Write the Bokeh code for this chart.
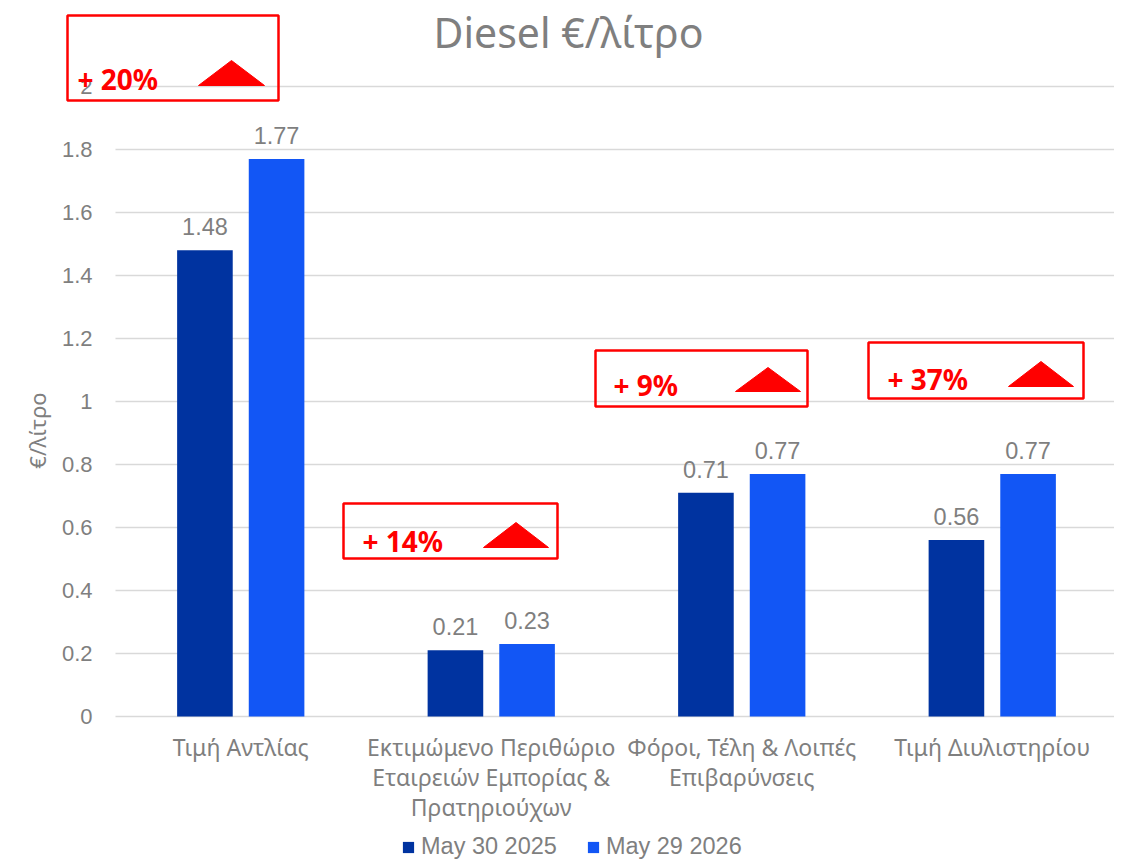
import numpy as np
from bokeh.plotting import figure
from bokeh.models import FixedTicker, BoxAnnotation, Label, Legend, LegendItem, ColumnDataSource
from bokeh.embed import file_html
from bokeh.resources import INLINE
from bokeh.core.properties import value

# ---------------- data ----------------
categories = [
    "Τιμή Αντλίας",
    "Εκτιμώμενο Περιθώριο\nΕταιρειών Εμπορίας &\nΠρατηριούχων",
    "Φόροι, Τέλη & Λοιπές\nΕπιβαρύνσεις",
    "Τιμή Διυλιστηρίου",
]
series_names = ["May 30 2025", "May 29 2026"]
values_2025 = [1.48, 0.21, 0.71, 0.56]
values_2026 = [1.77, 0.23, 0.77, 0.77]
value_labels_2025 = ["1.48", "0.21", "0.71", "0.56"]
value_labels_2026 = ["1.77", "0.23", "0.77", "0.77"]
change_labels = ["+ 20%", "+ 14%", "+ 9%", "+ 37%"]
y_ticks = [0, 0.2, 0.4, 0.6, 0.8, 1, 1.2, 1.4, 1.6, 1.8, 2]
y_tick_labels = ["0", "0.2", "0.4", "0.6", "0.8", "1", "1.2", "1.4", "1.6", "1.8", "2"]

# ---------------- style ----------------
DARK = "#0033A0"
LIGHT = "#1256F5"
GREY = "#7F7F7F"
GRID = "#D9D9D9"
RED = "#FF0000"
NUM_FONT = "Liberation Sans"
TXT_FONT = "Noto Sans"

W, H = 1114, 860
# plot-area geometry (canvas pixels); the frame covers the whole canvas
FL, FR, FB = 115, 1117, 716
PX_X = (FR - FL) / 4.0
PX_Y = 315.0
def dx(px):
    return (px - FL) / PX_X
def dy(py):
    return (FB - py) / PX_Y

# annotation boxes in canvas pixels: left, right, top, bottom
boxes_px = [(67, 278, 15, 100), (343, 557, 503, 558), (595, 807, 350, 406), (868, 1083, 342, 398)]
text_px = [(77, 78), (362, 540), (613, 384), (887, 378)]
tri_px = [(198, 264, 60, 85), (483, 548, 522, 547), (735, 800, 367, 391), (1008, 1073, 361, 386)]

n = len(categories)
centers = np.arange(n) + 0.5
bar_w = 0.222
off = 0.143

p = figure(width=W, height=H, x_range=(dx(0), dx(W)), y_range=(dy(H), dy(0)),
           output_backend="svg", toolbar_location=None, title=None, min_border=0)
p.outline_line_color = None
p.background_fill_color = "white"

src = ColumnDataSource(dict(
    x1=centers - off, x2=centers + off, v1=values_2025, v2=values_2026,
    l1=value_labels_2025, l2=value_labels_2026))

r1 = p.vbar(x="x1", top="v1", width=bar_w, source=src, fill_color=DARK, line_color=None)
r2 = p.vbar(x="x2", top="v2", width=bar_w, source=src, fill_color=LIGHT, line_color=None)

for xcol, ycol, lcol in (("x1", "v1", "l1"), ("x2", "v2", "l2")):
    p.text(x=xcol, y=ycol, text=lcol, source=src, text_align="center", text_baseline="bottom",
           y_offset=-15, text_font=value(NUM_FONT), text_font_size="23.5px", text_color=GREY)

# axes (anchored at the plot area's edges)
p.xaxis.fixed_location = 0
p.xaxis.ticker = FixedTicker(ticks=list(centers))
p.xaxis.major_label_overrides = {float(c): lab for c, lab in zip(centers, categories)}
p.xaxis.major_label_text_font = TXT_FONT
p.xaxis.major_label_text_font_size = "23px"
p.xaxis.major_label_text_color = GREY
p.xaxis.major_label_text_line_height = 0.94
p.xaxis.major_label_standoff = 8
p.xaxis.axis_line_color = None
p.xaxis.major_tick_line_color = None
p.xaxis.minor_tick_line_color = None

p.yaxis.fixed_location = 0
p.yaxis.ticker = FixedTicker(ticks=y_ticks)
p.yaxis.major_label_overrides = {float(t): s for t, s in zip(y_ticks, y_tick_labels)}
p.yaxis.major_label_text_font = NUM_FONT
p.yaxis.major_label_text_font_size = "22px"
p.yaxis.major_label_text_color = GREY
p.yaxis.major_label_standoff = 17
p.yaxis.axis_line_color = None
p.yaxis.major_tick_line_color = None
p.yaxis.minor_tick_line_color = None
p.yaxis.axis_label = "€/λίτρο"
p.yaxis.axis_label_text_font = TXT_FONT
p.yaxis.axis_label_text_font_size = "22px"
p.yaxis.axis_label_text_font_style = "normal"
p.yaxis.axis_label_text_color = GREY
p.yaxis.axis_label_standoff = 7

p.xgrid.grid_line_color = None
p.ygrid.grid_line_color = GRID
p.ygrid.grid_line_width = 1.5
p.ygrid.cross_bounds = (0, 4)

# title
p.add_layout(Label(x=dx(568), y=dy(31), text="Diesel €/λίτρο", text_align="center",
                   text_baseline="middle", text_font=TXT_FONT, text_font_size="41px",
                   text_color=GREY))

# change annotations
for (l, r, t, b), (tx, ty), (a, c, ta, tb), lab in zip(boxes_px, text_px, tri_px, change_labels):
    p.add_layout(BoxAnnotation(left=dx(l), right=dx(r), top=dy(t), bottom=dy(b),
                               fill_alpha=0, line_color=RED, line_alpha=1, line_width=2.5,
                               level="overlay"))
    p.add_layout(Label(x=dx(tx), y=dy(ty), text=lab, text_align="left", text_baseline="middle",
                       text_font=TXT_FONT, text_font_size="28px", text_font_style="bold",
                       text_color=RED))
    p.patch(x=[dx(a), dx((a + c) / 2), dx(c)], y=[dy(tb), dy(ta), dy(tb)],
            fill_color=RED, line_color=RED)

legend = Legend(items=[LegendItem(label=series_names[0], renderers=[r1]),
                       LegendItem(label=series_names[1], renderers=[r2])],
                orientation="horizontal", location=(401, 0),
                label_text_font=NUM_FONT, label_text_font_size="23.5px", label_text_color=GREY,
                glyph_width=14, glyph_height=14, label_standoff=6, spacing=29,
                border_line_color=None, background_fill_alpha=0, margin=0, padding=0)
p.add_layout(legend)

open("out.html", "w").write(file_html(p, INLINE))
